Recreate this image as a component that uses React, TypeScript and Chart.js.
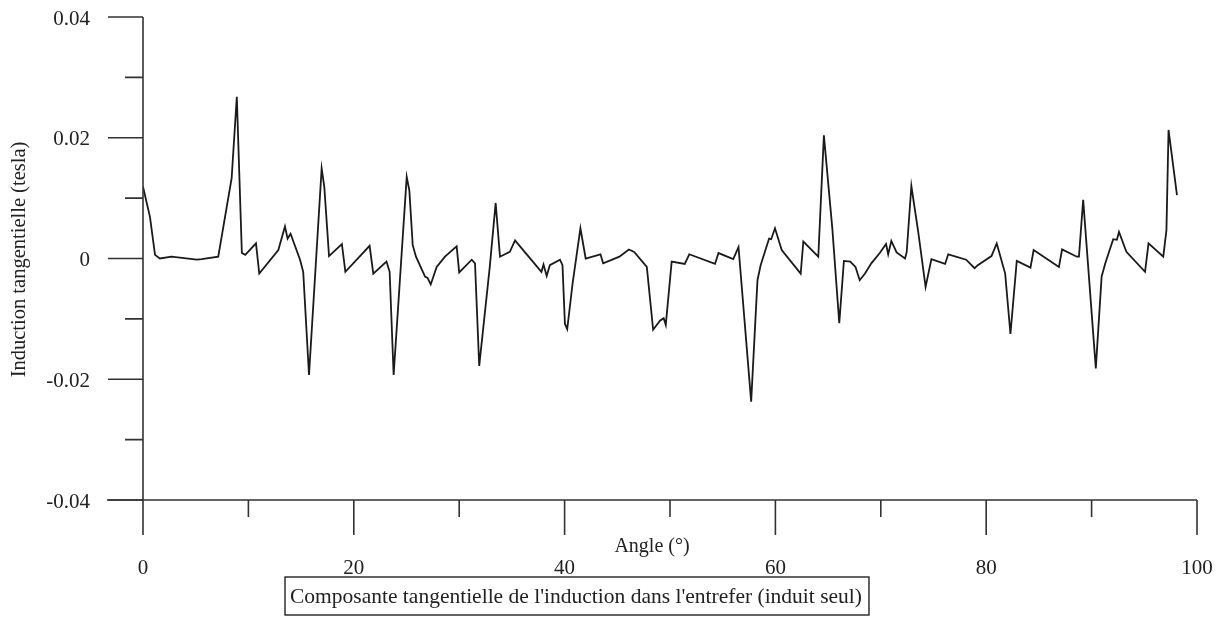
import React, { useEffect, useRef } from "react";
import { Chart, registerables } from "chart.js";

Chart.register(...registerables);

const angles: number[] = [
  0, 0.66, 1.14, 1.6, 2.7, 5.1, 5.57, 7.14, 8.41, 8.9, 9.38, 9.7, 10.72, 11.03, 12.84, 13.47, 13.72, 14.0,
  14.9, 15.2, 15.75, 16.95, 17.2, 17.65, 18.87, 19.2, 21.5, 21.85, 23.1, 23.4, 23.78, 25.02, 25.27, 25.59,
  25.9, 26.76, 27.0, 27.3, 27.86, 28.65, 29.76, 30.0, 31.19, 31.5, 31.9, 32.9, 33.46, 33.87, 34.8, 35.3,
  35.77, 37.8, 38.0, 38.3, 38.6, 39.56, 39.8, 40.03, 40.25, 40.76, 41.5, 42.0, 43.4, 43.66, 45.2, 46.1,
  46.6, 47.8, 48.4, 49.05, 49.4, 49.6, 50.16, 51.4, 51.83, 54.27, 54.6, 56.0, 56.5, 57.7, 58.3, 58.6,
  59.4, 59.6, 59.96, 60.6, 62.4, 62.65, 64.07, 64.6, 65.4, 66.06, 66.5, 67.1, 67.6, 68.0, 68.5, 69.1,
  69.9, 70.5, 70.7, 71.0, 71.5, 72.3, 72.46, 72.9, 73.55, 74.25, 74.8, 76.1, 76.4, 78.1, 78.9, 79.2,
  80.5, 81.0, 81.8, 82.3, 82.9, 84.2, 84.5, 86.9, 87.2, 88.6, 88.8, 89.2, 90.4, 90.95, 91.3, 92.05,
  92.4, 92.6, 93.3, 95.07, 95.4, 96.8, 97.1, 97.3, 98.1,
];

const induction: number[] = [
  0.0119, 0.0069, 0.0006, 0.0, 0.0003, -0.0002, -0.0001, 0.0003, 0.0133, 0.0268, 0.0009, 0.0006, 0.0025,
  -0.0025, 0.0014, 0.0053, 0.0033, 0.0041, -0.0002, -0.0022, -0.0193, 0.0149, 0.0119, 0.0004, 0.0024,
  -0.0022, 0.0021, -0.0025, -0.0005, -0.0022, -0.0193, 0.0135, 0.0113, 0.0022, 0.0003, -0.003, -0.0032,
  -0.0043, -0.0014, 0.0003, 0.002, -0.0023, -0.0002, -0.0008, -0.0178, -0.0014, 0.0092, 0.0003, 0.0011,
  0.003, 0.002, -0.0022, -0.001, -0.0029, -0.0011, -0.0002, -0.0011, -0.0108, -0.0117, -0.0041, 0.005,
  0.0, 0.0007, -0.0008, 0.0003, 0.0015, 0.0011, -0.0014, -0.0118, -0.0103, -0.0099, -0.011, -0.0005,
  -0.0009, 0.0007, -0.0009, 0.0009, -0.0001, 0.0019, -0.0237, -0.0036, -0.0011, 0.0033, 0.0032, 0.005,
  0.0014, -0.0025, 0.0028, 0.0003, 0.0204, 0.005, -0.0107, -0.0004, -0.0005, -0.0014, -0.0036, -0.0025,
  -0.0008, 0.0009, 0.0024, 0.0007, 0.0029, 0.001, 0.0, 0.0011, 0.012, 0.0044, -0.0047, -0.0001, -0.0009,
  0.0007, -0.0002, -0.0016, -0.0011, 0.0004, 0.0025, -0.0025, -0.0125, -0.0004, -0.0015, 0.0014, -0.0014,
  0.0015, 0.0003, 0.0003, 0.0097, -0.0182, -0.003, -0.0008, 0.0032, 0.0031, 0.0044, 0.0011, -0.0022,
  0.0025, 0.0003, 0.0047, 0.0213, 0.0105,
];

const xMajorTicks: number[] = [0, 20, 40, 60, 80, 100];
const xMinorTicks: number[] = [10, 30, 50, 70, 90];
const yMajorTicks: number[] = [0.04, 0.02, 0, -0.02, -0.04];
const yMajorLabels: string[] = ["0.04", "0.02", "0", "-0.02", "-0.04"];
const yMinorTicks: number[] = [0.03, 0.01, -0.01, -0.03];

const xTitle = "Angle (°)";
const yTitle = "Induction tangentielle (tesla)";
const legendText = "Composante tangentielle de l'induction dans l'entrefer (induit seul)";

const FONT = "'Liberation Serif', 'Times New Roman', serif";

const axesPlugin = {
  id: "classicAxes",
  afterDraw(chart: any) {
    const ctx = chart.ctx as CanvasRenderingContext2D;
    const xs = chart.scales.x;
    const ys = chart.scales.y;
    const x0 = xs.getPixelForValue(0);
    const xEnd = xs.getPixelForValue(100);
    const yTop = ys.getPixelForValue(0.04);
    const yBot = ys.getPixelForValue(-0.04);
    ctx.save();
    ctx.strokeStyle = "#333";
    ctx.lineWidth = 1.6;
    ctx.lineCap = "butt";
    ctx.beginPath();
    ctx.moveTo(x0, yTop);
    ctx.lineTo(x0, yBot);
    ctx.moveTo(x0 - 36, yBot);
    ctx.lineTo(xEnd, yBot);
    ctx.stroke();
    ctx.beginPath();
    yMajorTicks.forEach((v) => {
      const p = ys.getPixelForValue(v);
      ctx.moveTo(x0 - 35, p);
      ctx.lineTo(x0, p);
    });
    yMinorTicks.forEach((v) => {
      const p = ys.getPixelForValue(v);
      ctx.moveTo(x0 - 18, p);
      ctx.lineTo(x0, p);
    });
    xMajorTicks.forEach((v) => {
      const p = xs.getPixelForValue(v);
      ctx.moveTo(p, yBot);
      ctx.lineTo(p, yBot + 35);
    });
    xMinorTicks.forEach((v) => {
      const p = xs.getPixelForValue(v);
      ctx.moveTo(p, yBot);
      ctx.lineTo(p, yBot + 17);
    });
    ctx.stroke();

    ctx.fillStyle = "#222";
    ctx.font = `21px ${FONT}`;
    ctx.textBaseline = "middle";
    ctx.textAlign = "right";
    yMajorTicks.forEach((v, i) => {
      ctx.fillText(yMajorLabels[i], x0 - 53, ys.getPixelForValue(v) + 2);
    });
    ctx.textAlign = "center";
    xMajorTicks.forEach((v) => {
      ctx.fillText(String(v), xs.getPixelForValue(v), yBot + 68);
    });
    ctx.font = `20px ${FONT}`;
    ctx.fillText(xTitle, 652, yBot + 47);
    ctx.font = `20.5px ${FONT}`;
    ctx.save();
    ctx.translate(20, (yTop + yBot) / 2 + 1);
    ctx.rotate(-Math.PI / 2);
    ctx.fillText(yTitle, 0, 0);
    ctx.restore();
    ctx.font = `21.5px ${FONT}`;
    const w = ctx.measureText(legendText).width;
    const bx = 285;
    const by = yBot + 77;
    const bw = Math.max(w + 12, 583);
    const bh = 38;
    ctx.lineWidth = 1.4;
    ctx.strokeStyle = "#222";
    ctx.strokeRect(bx, by, bw, bh);
    ctx.textAlign = "left";
    ctx.fillText(legendText, bx + 5, by + bh / 2 + 1);
    ctx.restore();
  },
};

export default function App() {
  const ref = useRef<HTMLCanvasElement | null>(null);
  useEffect(() => {
    document.body.style.margin = "0";
    if (!ref.current) return;
    const points = angles.map((a, i) => ({ x: a, y: induction[i] }));
    const chart = new Chart(ref.current, {
      type: "line",
      data: {
        datasets: [
          {
            label: legendText,
            data: points,
            borderColor: "#1a1a1a",
            borderWidth: 1.8,
            pointRadius: 0,
            tension: 0,
            fill: false,
          },
        ],
      },
      options: {
        animation: false,
        responsive: false,
        layout: { padding: { left: 143, right: 29, top: 17, bottom: 118 } },
        plugins: { legend: { display: false }, tooltip: { enabled: false } },
        scales: {
          x: { type: "linear", min: 0, max: 100, display: false },
          y: { type: "linear", min: -0.04, max: 0.04, display: false },
        },
      },
      plugins: [axesPlugin],
    });
    return () => chart.destroy();
  }, []);
  return (
    <div style={{ position: "absolute", left: 0, top: 0, width: 1226, height: 618, background: "#fff" }}>
      <canvas ref={ref} width={1226} height={618} style={{ display: "block" }} />
    </div>
  );
}
